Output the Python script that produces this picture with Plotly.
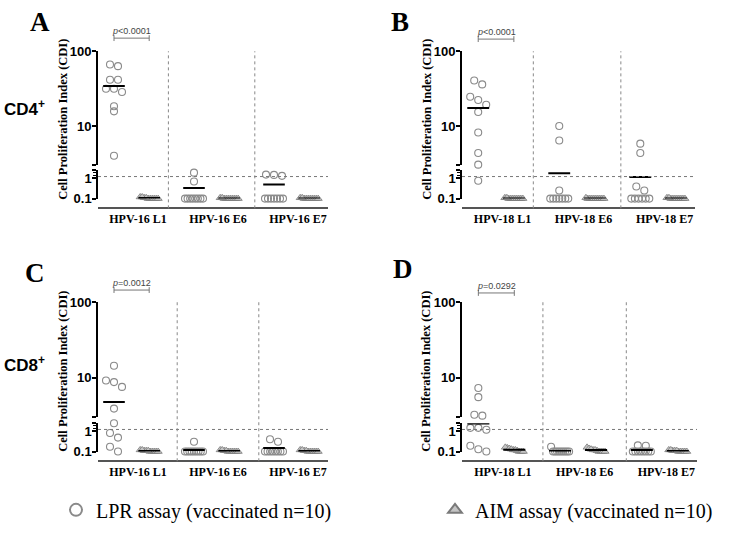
import numpy as np
import plotly.graph_objects as go

W, H = 731, 549

# ---------------- data ----------------
cats_16 = ["HPV-16 L1", "HPV-16 E6", "HPV-16 E7"]
cats_18 = ["HPV-18 L1", "HPV-18 E6", "HPV-18 E7"]

# Panel A (CD4+, HPV-16)
A_lpr_L1 = [66.5, 63.2, 41.6, 41.6, 31.5, 28.5, 31.5, 18.4, 15.7, 4.0]
A_lpr_E6 = [1.86, 0.69, 0.1, 0.1, 0.1, 0.1, 0.1, 0.1, 0.1, 0.1]
A_lpr_E7 = [1.3, 1.45, 1.5, 0.1, 0.1, 0.1, 0.1, 0.1, 0.1, 0.1]
A_aim_L1 = [0.1, 0.11, 0.12, 0.1, 0.1, 0.11, 0.1, 0.1, 0.12, 0.1]
A_aim_E6 = [0.1, 0.1, 0.11, 0.1, 0.1, 0.1, 0.11, 0.1, 0.1, 0.1]
A_aim_E7 = [0.1, 0.1, 0.1, 0.11, 0.1, 0.1, 0.1, 0.1, 0.11, 0.1]

# Panel B (CD4+, HPV-18)
B_lpr_L1 = [36.0, 40.6, 22.3, 24.6, 19.2, 15.4, 8.2, 4.35, 3.04, 0.75]
B_lpr_E6 = [10.0, 6.4, 0.25, 0.1, 0.1, 0.1, 0.1, 0.1, 0.1, 0.1]
B_lpr_E7 = [5.8, 4.35, 0.39, 0.25, 0.1, 0.1, 0.1, 0.1, 0.1, 0.1]
B_aim_L1 = [0.1, 0.1, 0.11, 0.1, 0.1, 0.1, 0.1, 0.11, 0.1, 0.1]
B_aim_E6 = [0.1, 0.1, 0.1, 0.1, 0.11, 0.1, 0.1, 0.1, 0.1, 0.1]
B_aim_E7 = [0.1, 0.11, 0.1, 0.1, 0.1, 0.1, 0.1, 0.1, 0.11, 0.1]

# Panel C (CD8+, HPV-16)
C_lpr_L1 = [14.5, 9.25, 8.8, 7.6, 3.93, 2.4, 0.81, 0.48, 0.17, 0.1]
C_lpr_E6 = [0.3, 0.1, 0.1, 0.1, 0.1, 0.1, 0.1, 0.1, 0.1, 0.1]
C_lpr_E7 = [0.4, 0.3, 0.1, 0.1, 0.1, 0.1, 0.1, 0.1, 0.1, 0.1]
C_aim_L1 = [0.1, 0.11, 0.12, 0.1, 0.11, 0.1, 0.12, 0.1, 0.11, 0.1]
C_aim_E6 = [0.1, 0.11, 0.12, 0.1, 0.1, 0.11, 0.1, 0.12, 0.1, 0.1]
C_aim_E7 = [0.1, 0.12, 0.11, 0.1, 0.1, 0.11, 0.1, 0.12, 0.1, 0.1]

# Panel D (CD8+, HPV-18)
D_lpr_L1 = [7.35, 5.57, 3.26, 3.17, 1.44, 1.44, 1.16, 0.19, 0.1, 0.13]
D_lpr_E6 = [0.17, 0.1, 0.1, 0.1, 0.1, 0.1, 0.1, 0.1, 0.1, 0.1]
D_lpr_E7 = [0.19, 0.2, 0.1, 0.1, 0.1, 0.1, 0.1, 0.1, 0.1, 0.1]
D_aim_L1 = [0.1, 0.12, 0.15, 0.16, 0.14, 0.1, 0.11, 0.13, 0.1, 0.12]
D_aim_E6 = [0.1, 0.12, 0.16, 0.14, 0.1, 0.11, 0.13, 0.1, 0.1, 0.12]
D_aim_E7 = [0.1, 0.12, 0.11, 0.12, 0.1, 0.1, 0.11, 0.1, 0.1, 0.11]

p_values = ["<i>p</i>&lt;0.0001", "<i>p</i>&lt;0.0001", "<i>p</i>=0.0012", "<i>p</i>=0.0292"]
panel_letters = ["A", "B", "C", "D"]
row_labels = ["CD4<sup>+</sup>", "CD8<sup>+</sup>"]
threshold = 1.2
y_title = "Cell Proliferation Index (CDI)"
lpr_name = "LPR assay (vaccinated n=10)"
aim_name = "AIM assay (vaccinated n=10)"

panels = [
    dict(cats=cats_16, lpr=[A_lpr_L1, A_lpr_E6, A_lpr_E7], aim=[A_aim_L1, A_aim_E6, A_aim_E7]),
    dict(cats=cats_18, lpr=[B_lpr_L1, B_lpr_E6, B_lpr_E7], aim=[B_aim_L1, B_aim_E6, B_aim_E7]),
    dict(cats=cats_16, lpr=[C_lpr_L1, C_lpr_E6, C_lpr_E7], aim=[C_aim_L1, C_aim_E6, C_aim_E7]),
    dict(cats=cats_18, lpr=[D_lpr_L1, D_lpr_E6, D_lpr_E7], aim=[D_aim_L1, D_aim_E6, D_aim_E7]),
]

# ---------------- geometry (pixels) ----------------
geom = [
    dict(x0=98, x1=328, up_top=45.5, up_bot=162.5, lo_top=168, lo_bot=197, xline=207,
         seps=[0.38, 1.46], letter=(40, 15), title=(63, 116), br_y=32, ptxt_y=25),
    dict(x0=462, x1=695, up_top=45.5, up_bot=162.5, lo_top=168, lo_bot=197, xline=207,
         seps=[0.38, 1.46], letter=(400, 15), title=(427, 116), br_y=33, ptxt_y=26),
    dict(x0=98, x1=328, up_top=303.5, up_bot=422, lo_top=428, lo_bot=457, xline=467,
         seps=[0.49, 1.51], letter=(35, 273), title=(63, 375), br_y=291, ptxt_y=284),
    dict(x0=462, x1=697, up_top=303.5, up_bot=422, lo_top=428, lo_bot=457, xline=467,
         seps=[0.49, 1.51], letter=(403, 269), title=(426, 375), br_y=294, ptxt_y=287),
]
row_label_pos = [(24, 104), (24, 367)]
legend_pos = [(56, 517), (435, 517)]

X_RANGE = [-0.5, 2.375]
LPR_OFF, AIM_OFF = -0.3, 0.14
UP_LO, UP_HI = 3.0, 100.0     # upper (log) segment
LO_LO, LO_HI = 0.1, 2.4       # lower (compressed log) segment
SPLIT = 2.7
MEAN_HALF = 0.135


def ypix(v, g):
    if v >= SPLIT:
        f = (np.log10(v) - np.log10(UP_LO)) / (np.log10(UP_HI) - np.log10(UP_LO))
        return g["up_bot"] - f * (g["up_bot"] - g["up_top"])
    f = (np.log10(v) - np.log10(LO_LO)) / (np.log10(LO_HI) - np.log10(LO_LO))
    return g["lo_bot"] - f * (g["lo_bot"] - g["lo_top"])


def swarm(vals, g, max_w=18.0, step=8.0, tol=5.0):
    ys = np.array([ypix(v, g) for v in vals])
    order = np.argsort(ys, kind="stable")
    rows, cur = [], [order[0]]
    for i in order[1:]:
        if ys[i] - ys[cur[-1]] < tol:
            cur.append(i)
        else:
            rows.append(cur)
            cur = [i]
    rows.append(cur)
    offs = np.zeros(len(vals))
    for r in rows:
        k = len(r)
        if k > 1:
            sp = min(step, max_w / (k - 1))
            for j, i in enumerate(r):
                offs[i] = (j - (k - 1) / 2) * sp
    return offs


fig = go.Figure()
SERIF = "Liberation Serif"
SANS = "Liberation Sans"

series_style = {
    "lpr": dict(symbol="circle-open", size=7, color="#8a8a8a", line=dict(width=1.1, color="#8a8a8a")),
    "aim": dict(symbol="triangle-up", size=7, color="#c4c4c4", line=dict(width=0.8, color="#7a7a7a")),
}
names = {"lpr": lpr_name, "aim": aim_name}
legend_ref = {"lpr": "legend", "aim": "legend2"}
shown = {"lpr": False, "aim": False}

for k, (pan, g) in enumerate(zip(panels, geom)):
    xa = "x" if k == 0 else f"x{k+1}"
    yu = f"y{2*k+1}" if k > 0 else "y"
    yl = f"y{2*k+2}"
    ppu = (g["x1"] - g["x0"]) / (X_RANGE[1] - X_RANGE[0])
    for key, off in (("lpr", LPR_OFF), ("aim", AIM_OFF)):
        seg = {"up": ([], []), "lo": ([], [])}
        mseg = {"up": ([], []), "lo": ([], [])}
        for ci, vals in enumerate(pan[key]):
            cx = ci + off
            offs = swarm(vals, g)
            for v, o in zip(vals, offs):
                s = "up" if v >= SPLIT else "lo"
                seg[s][0].append(cx + o / ppu)
                seg[s][1].append(v)
            m = float(np.mean(vals))
            s = "up" if m >= SPLIT else "lo"
            mseg[s][0].extend([cx - MEAN_HALF, cx + MEAN_HALF, None])
            mseg[s][1].extend([m, m, None])
        for s, ya in (("up", yu), ("lo", yl)):
            if seg[s][0]:
                show = not shown[key]
                shown[key] = True
                fig.add_trace(go.Scatter(
                    x=seg[s][0], y=seg[s][1], mode="markers", xaxis=xa, yaxis=ya,
                    marker=series_style[key], name=names[key], legendgroup=key,
                    legend=legend_ref[key],
                    showlegend=show, cliponaxis=False, hoverinfo="y"))
        for s, ya in (("up", yu), ("lo", yl)):
            if mseg[s][0]:
                fig.add_trace(go.Scatter(
                    x=mseg[s][0], y=mseg[s][1], mode="lines", xaxis=xa, yaxis=ya,
                    line=dict(color="black", width=2), showlegend=False,
                    cliponaxis=False, hoverinfo="skip"))
    # threshold dotted line
    fig.add_trace(go.Scatter(
        x=X_RANGE, y=[threshold, threshold], mode="lines", xaxis=xa, yaxis=yl,
        line=dict(color="#777777", width=1, dash="dot"), showlegend=False,
        cliponaxis=False, hoverinfo="skip"))

legend_common = dict(orientation="h", xanchor="left", yanchor="middle",
                     font=dict(family=SERIF, size=20, color="black"),
                     itemsizing="constant", bgcolor="rgba(0,0,0,0)")
layout = dict(
    width=W, height=H, margin=dict(l=0, r=0, t=0, b=0),
    paper_bgcolor="white", plot_bgcolor="rgba(0,0,0,0)",
    showlegend=True,
    legend=dict(x=legend_pos[0][0] / W, y=1 - legend_pos[0][1] / H, **legend_common),
    legend2=dict(x=legend_pos[1][0] / W, y=1 - legend_pos[1][1] / H, **legend_common),
    shapes=[], annotations=[],
)

for k, (pan, g) in enumerate(zip(panels, geom)):
    xname = "xaxis" if k == 0 else f"xaxis{k+1}"
    xa = "x" if k == 0 else f"x{k+1}"
    yu_name = "yaxis" if k == 0 else f"yaxis{2*k+1}"
    yl_name = f"yaxis{2*k+2}"
    layout[xname] = dict(
        domain=[g["x0"] / W, g["x1"] / W], range=X_RANGE, anchor="free",
        position=1 - g["xline"] / H, showline=True, linecolor="#555555", linewidth=1.5,
        tickvals=[0, 1, 2], ticktext=pan["cats"], ticks="", showgrid=False, zeroline=False,
        tickfont=dict(family=SERIF, size=12, color="black", weight="bold"), fixedrange=True)
    layout[yu_name] = dict(
        type="log", domain=[1 - g["up_bot"] / H, 1 - g["up_top"] / H],
        range=[np.log10(UP_LO), np.log10(UP_HI)], anchor=xa, showline=True,
        linecolor="black", linewidth=2, ticks="outside", ticklen=4, tickwidth=2,
        tickcolor="black", tickvals=[UP_LO, 10, 100], ticktext=["", "10", "100"],
        showgrid=False, zeroline=False, ticklabelstandoff=-2,
        tickfont=dict(family=SANS, size=13, color="black", weight="bold"))
    layout[yl_name] = dict(
        type="log", domain=[1 - g["lo_bot"] / H, 1 - g["lo_top"] / H],
        range=[np.log10(LO_LO), np.log10(LO_HI)], anchor=xa, showline=True,
        linecolor="black", linewidth=1.5, ticks="outside", ticklen=4, tickwidth=1.5,
        tickcolor="black", tickvals=[LO_LO, 1, LO_HI], ticktext=["0.1", "1", ""],
        showgrid=False, zeroline=False, ticklabelstandoff=-2,
        minor=dict(tickmode="array", tickvals=[1.4, 1.8], ticks="outside", ticklen=3,
                   tickcolor="black", tickwidth=1),
        tickfont=dict(family=SANS, size=13, color="black", weight="bold"))

    # vertical dotted separators
    for s in g["seps"]:
        layout["shapes"].append(dict(
            type="line", xref=xa, yref="paper", x0=s, x1=s,
            y0=1 - g["xline"] / H, y1=1 - g["up_top"] / H,
            line=dict(color="#888888", width=1, dash="dot")))
    # significance bracket
    bx0, bx1 = LPR_OFF, AIM_OFF
    by = 1 - g["br_y"] / H
    cap = 3 / H
    for sh in (dict(x0=bx0, x1=bx1, y0=by, y1=by),
               dict(x0=bx0, x1=bx0, y0=by - cap, y1=by + cap),
               dict(x0=bx1, x1=bx1, y0=by - cap, y1=by + cap)):
        sh.update(type="line", xref=xa, yref="paper", line=dict(color="#777777", width=1))
        layout["shapes"].append(sh)
    layout["annotations"].append(dict(
        x=(bx0 + bx1) / 2, xref=xa, y=1 - g["ptxt_y"] / H, yref="paper",
        text=p_values[k], showarrow=False, xanchor="center", yanchor="middle",
        font=dict(family=SANS, size=9, color="#444444")))
    # panel letter
    layout["annotations"].append(dict(
        x=g["letter"][0] / W, y=1 - g["letter"][1] / H, xref="paper", yref="paper",
        text=panel_letters[k], showarrow=False, xanchor="center", yanchor="middle",
        font=dict(family=SERIF, size=27, color="black", weight="bold")))
    # y-axis title
    layout["annotations"].append(dict(
        x=g["title"][0] / W, y=1 - g["title"][1] / H, xref="paper", yref="paper",
        text=y_title, showarrow=False, textangle=-90, xanchor="center", yanchor="middle",
        font=dict(family=SERIF, size=12.5, color="black", weight="bold")))

for lbl, (px, py) in zip(row_labels, row_label_pos):
    layout["annotations"].append(dict(
        x=px / W, y=1 - py / H, xref="paper", yref="paper", text=lbl, showarrow=False,
        xanchor="center", yanchor="middle",
        font=dict(family=SANS, size=17, color="black", weight="bold")))

fig.update_layout(**layout)
fig.write_html("out.html")
